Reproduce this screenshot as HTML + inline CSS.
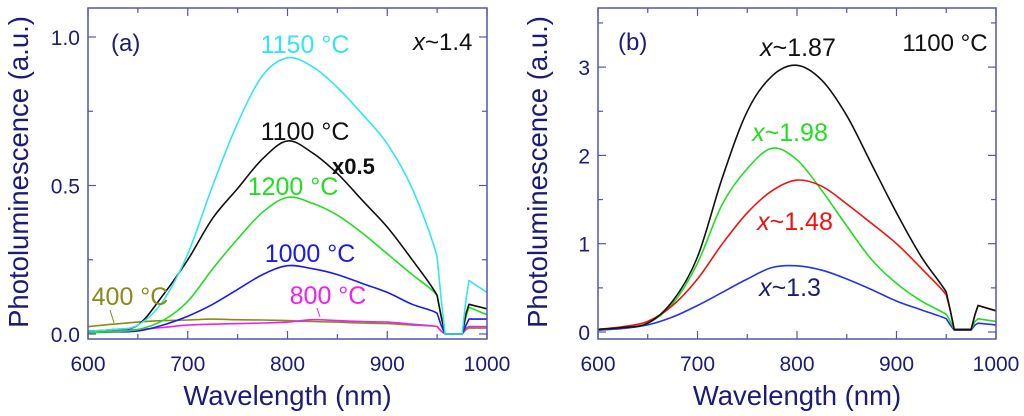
<!DOCTYPE html>
<html><head><meta charset="utf-8"><style>
body{margin:0;background:#fff;width:1024px;height:416px;overflow:hidden}
svg{display:block;font-family:"Liberation Sans",sans-serif}
</style></head><body>
<svg id="fig" width="1024" height="416" viewBox="0 0 1024 416"></svg>
<script>
const wl = [600,625,650,675,700,725,750,775,800,825,850,875,900,925,950,954,958,975,979,982,1000];
const aT1150 = [0.01,0.015,0.03,0.11,0.27,0.50,0.71,0.87,0.93,0.90,0.83,0.74,0.64,0.49,0.26,0.12,0.0,0.0,0.12,0.18,0.14];
const aT1100 = [0.01,0.015,0.03,0.13,0.25,0.39,0.49,0.59,0.65,0.61,0.54,0.45,0.36,0.25,0.13,0.06,0.0,0.0,0.07,0.10,0.085];
const aT1200 = [0.005,0.008,0.015,0.045,0.11,0.22,0.32,0.41,0.46,0.44,0.40,0.34,0.27,0.20,0.13,0.06,0.0,0.0,0.06,0.09,0.065];
const aT1000 = [0.005,0.007,0.01,0.03,0.06,0.10,0.15,0.20,0.23,0.22,0.20,0.17,0.14,0.10,0.07,0.03,0.0,0.0,0.03,0.05,0.05];
const aT400  = [0.025,0.033,0.04,0.045,0.047,0.05,0.048,0.047,0.045,0.042,0.04,0.037,0.035,0.03,0.025,0.01,0.0,0.0,0.015,0.02,0.02];
const aT800  = [0.01,0.012,0.015,0.022,0.03,0.033,0.035,0.037,0.04,0.048,0.045,0.042,0.04,0.033,0.025,0.01,0.0,0.0,0.02,0.025,0.025];
const bX187 = [0.03,0.05,0.10,0.35,0.85,1.75,2.50,2.90,3.02,2.85,2.45,1.90,1.35,0.85,0.45,0.25,0.03,0.03,0.20,0.30,0.24];
const bX198 = [0.03,0.05,0.10,0.32,0.78,1.45,1.85,2.08,1.95,1.60,1.20,0.82,0.55,0.35,0.20,0.12,0.03,0.03,0.12,0.15,0.12];
const bX148 = [0.03,0.06,0.12,0.30,0.60,1.00,1.35,1.60,1.72,1.65,1.45,1.23,1.00,0.72,0.42,0.25,0.03,0.03,0.20,0.30,0.24];
const bX13  = [0.02,0.04,0.08,0.17,0.30,0.45,0.60,0.73,0.75,0.70,0.60,0.48,0.35,0.25,0.15,0.08,0.02,0.02,0.08,0.10,0.08];
const xTicks = [600,700,800,900,1000];
const aYTicks = [0,0.5,1.0], aYLabels = ["0.0","0.5","1.0"];
const bYTicks = [0,1,2,3], bYLabels = ["0","1","2","3"];

const NS="http://www.w3.org/2000/svg", svg=document.getElementById('fig');
const AX="#5555aa", TX="#1c1c78";
function el(t,a,p){const e=document.createElementNS(NS,t);for(const k in a)e.setAttribute(k,a[k]);(p||svg).appendChild(e);return e;}
function txt(s,x,y,o,name,p){const e=el('text',Object.assign({x:x,y:y},o),p);e.textContent=s;return e;}
function smooth(pts){
  let d='M'+pts[0][0].toFixed(1)+' '+pts[0][1].toFixed(1);
  for(let i=0;i<pts.length-1;i++){
    const p0=pts[Math.max(0,i-1)],p1=pts[i],p2=pts[i+1],p3=pts[Math.min(pts.length-1,i+2)];
    if(wl[i]>=950){d+=' L'+p2[0].toFixed(1)+' '+p2[1].toFixed(1);continue;}
    const c1=[p1[0]+(p2[0]-p0[0])/6,p1[1]+(p2[1]-p0[1])/6],c2=[p2[0]-(p3[0]-p1[0])/6,p2[1]-(p3[1]-p1[1])/6];
    d+=` C${c1[0].toFixed(1)} ${c1[1].toFixed(1)} ${c2[0].toFixed(1)} ${c2[1].toFixed(1)} ${p2[0].toFixed(1)} ${p2[1].toFixed(1)}`;
  }
  return d;
}
function panel(id,L,R,T,B,ymax,y0px,yPerUnit,yTicks,yLabels,yMinorStep,series,titleX){
  const g=el('g',{});
  
  
  const sx=v=>L+(v-600)/400*(R-L);
  const sy=v=>y0px-v*yPerUnit;
  series.forEach(s=>{
    const p=el('path',{d:smooth(wl.map((w,i)=>[sx(w),sy(s.v[i])])),fill:'none',stroke:s.c,'stroke-width':1.6,'stroke-linejoin':'round'},g);
    
    
  });
  const fr=el('rect',{x:L,y:T,width:R-L,height:B-T,fill:'none',stroke:AX,'stroke-width':1.5},g);
  
  
  for(let w=600;w<=1000;w+=50){const x=sx(w),len=(w%100===0)?8:5;
    el('line',{x1:x,y1:B,x2:x,y2:B-len,stroke:AX,'stroke-width':1.2},g);
    el('line',{x1:x,y1:T,x2:x,y2:T+len,stroke:AX,'stroke-width':1.2},g);}
  xTicks.forEach(w=>txt(String(w),sx(w),B+32,{'text-anchor':'middle','font-size':21,fill:TX},'x-tick-label',g));
  for(let v=0;v<=ymax+1e-9;v+=yMinorStep){const y=sy(v);if(y<T)continue;
    const major=yTicks.some(t=>Math.abs(t-v)<1e-9),len=major?8:5;
    el('line',{x1:L,y1:y,x2:L+len,y2:y,stroke:AX,'stroke-width':1.2},g);
    el('line',{x1:R,y1:y,x2:R-len,y2:y,stroke:AX,'stroke-width':1.2},g);}
  yTicks.forEach((v,i)=>txt(yLabels[i],L-8,sy(v)+8,{'text-anchor':'end','font-size':21,fill:TX},'y-tick-label',g));
  txt('Wavelength (nm)',(L+R)/2,405,{'text-anchor':'middle','font-size':27.5,fill:TX},'x-axis-title',g);
  txt('Photoluminescence (a.u.)',0,0,{'text-anchor':'middle','font-size':27.5,fill:TX,transform:`translate(${titleX},172) rotate(-90)`},'y-axis-title',g);
  return g;
}
panel('panel-a',88,487,8,339,1.1,334,297,aYTicks,aYLabels,0.25,[
 {n:'series-400C',c:'#8a8a1a',v:aT400},{n:'series-800C',c:'#ee22ee',v:aT800},
 {n:'series-1000C',c:'#1a1aee',v:aT1000},{n:'series-1200C',c:'#22dd22',v:aT1200},
 {n:'series-1100C',c:'#111111',v:aT1100},{n:'series-1150C',c:'#33e6ee',v:aT1150}],28);
panel('panel-b',598,996,8,339,3.6,332,88.3,bYTicks,bYLabels,0.5,[
 {n:'series-x1.3',c:'#2233ee',v:bX13},{n:'series-x1.98',c:'#22dd22',v:bX198},
 {n:'series-x1.48',c:'#ee1111',v:bX148},{n:'series-x1.87',c:'#111111',v:bX187}],547);

txt('(a)',111,51,{'font-size':24,fill:TX},'panel-a-label');
txt('1150 °C',305,53,{'text-anchor':'middle','font-size':25,fill:'#33e6ee'},'label-1150C');
const x14=txt('',413,50,{'font-size':24,fill:'#111'},'label-x1.4');
x14.innerHTML='<tspan font-style="italic">x</tspan>~1.4';
txt('1100 °C',305,140,{'text-anchor':'middle','font-size':25,fill:'#111'},'label-1100C');
txt('x0.5',332,174,{'font-size':22,'font-weight':'bold',fill:'#111'},'label-x0.5');
txt('1200 °C',293,195,{'text-anchor':'middle','font-size':25,fill:'#22dd22'},'label-1200C');
txt('1000 °C',310,262,{'text-anchor':'middle','font-size':25,fill:'#1a1aee'},'label-1000C');
txt('400 °C',130,305,{'text-anchor':'middle','font-size':25,fill:'#8a8a1a'},'label-400C');
txt('800 °C',328,304,{'text-anchor':'middle','font-size':25,fill:'#ee22ee'},'label-800C');
el('line',{x1:110,y1:310,x2:114,y2:323,stroke:'#8a8a1a','stroke-width':1});
el('line',{x1:317,y1:308,x2:320,y2:317,stroke:'#ee22ee','stroke-width':1});

txt('(b)',618,50,{'font-size':24,fill:TX},'panel-b-label');
txt('1100 °C',945,51,{'text-anchor':'middle','font-size':24,fill:'#111'},'label-1100C-b');
const lb=[['x~1.87',798,56,'#111','label-x1.87'],['x~1.98',790,141,'#22dd22','label-x1.98'],['x~1.48',795,230,'#ee1111','label-x1.48'],['x~1.3',790,296,'#1c1c78','label-x1.3']];
lb.forEach(a=>{const t=txt('',a[1],a[2],{'text-anchor':'middle','font-size':25,fill:a[3]},a[4]);t.innerHTML='<tspan font-style="italic">x</tspan>'+a[0].slice(1);});
</script>
</body></html>
